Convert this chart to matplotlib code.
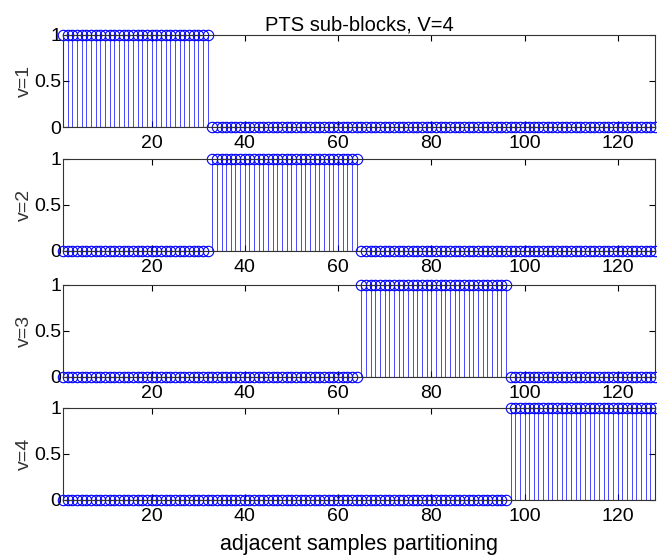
import numpy as np
import matplotlib
matplotlib.use('Agg')
import matplotlib.pyplot as plt

plt.rcParams['font.family'] = ['Liberation Sans', 'DejaVu Sans']

# 128 samples split into V=4 adjacent sub-blocks of 32
n = np.arange(1, 129)
v1 = [1] * 32 + [0] * 96
v2 = [0] * 32 + [1] * 32 + [0] * 64
v3 = [0] * 64 + [1] * 32 + [0] * 32
v4 = [0] * 96 + [1] * 32
blocks = [v1, v2, v3, v4]
ylabels = ['v=1', 'v=2', 'v=3', 'v=4']

fig = plt.figure(figsize=(6.57, 5.58), dpi=100)

bottoms = [0.7724, 0.5502, 0.3244, 0.1040]
for i, (vals, lab) in enumerate(zip(blocks, ylabels)):
    ax = fig.add_axes([0.0959, bottoms[i], 0.9011, 0.165])
    m, s, b = ax.stem(n, vals, linefmt='b-', markerfmt='bo', basefmt='k-')
    plt.setp(s, linewidth=0.5)
    plt.setp(m, markerfacecolor='none', markeredgecolor='b',
             markersize=7.5, markeredgewidth=0.8, clip_on=False)
    plt.setp(b, linewidth=0.8, color='#444444')
    for sp in ax.spines.values():
        sp.set_color('#333333')
        sp.set_linewidth(0.8)
    ax.set_xlim(1, 128)
    ax.set_ylim(0, 1)
    ax.set_xticks([20, 40, 60, 80, 100, 120])
    ax.set_yticks([0, 0.5, 1])
    ax.set_yticklabels(['0', '0.5', '1'])
    ax.tick_params(direction='in', top=True, right=True, labelsize=14,
                   length=4, width=0.8)
    ax.tick_params(axis='x', pad=6)
    ax.tick_params(axis='y', pad=1)
    ax.set_ylabel(lab, fontsize=14, labelpad=1, color='#333333')
    if i == 0:
        ax.set_title('PTS sub-blocks, V=4', fontsize=14.5, pad=3)
    if i == 3:
        ax.set_xlabel('adjacent samples partitioning', fontsize=15.5,
                      labelpad=6)

fig.savefig('out.png', dpi=100)
